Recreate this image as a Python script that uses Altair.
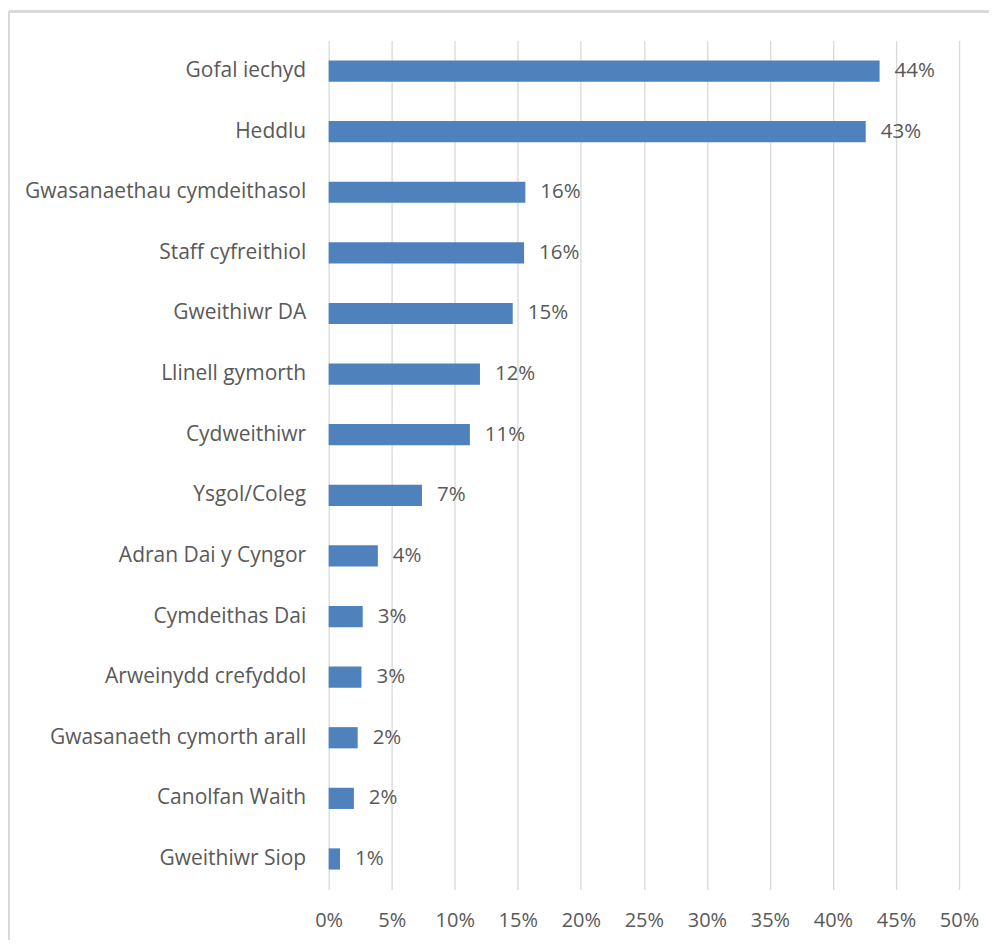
import altair as alt
import pandas as pd

categories = [
    "Gofal iechyd", "Heddlu", "Gwasanaethau cymdeithasol", "Staff cyfreithiol",
    "Gweithiwr DA", "Llinell gymorth", "Cydweithiwr", "Ysgol/Coleg",
    "Adran Dai y Cyngor", "Cymdeithas Dai", "Arweinydd crefyddol",
    "Gwasanaeth cymorth arall", "Canolfan Waith", "Gweithiwr Siop",
]
values = [0.437, 0.426, 0.156, 0.155, 0.146, 0.120, 0.112, 0.074,
          0.039, 0.027, 0.026, 0.023, 0.020, 0.009]
x_ticks = [0, 0.05, 0.10, 0.15, 0.20, 0.25, 0.30, 0.35, 0.40, 0.45, 0.50]

df = pd.DataFrame({"cat": categories, "val": values})

FONT = "Open Sans"
GRAY = "#595959"
FS = 19.5

y_enc = alt.Y("cat:N", sort=categories, title=None,
              scale=alt.Scale(paddingInner=0.65, paddingOuter=0.33),
              axis=alt.Axis(labelFontSize=21, labelColor=GRAY, labelFont=FONT,
                            labelPadding=23, ticks=False, domain=False,
                            labelLimit=400))
x_enc = alt.X("val:Q", title=None,
              scale=alt.Scale(domain=[0, 0.5], nice=False),
              axis=alt.Axis(values=x_ticks, format=".0%", labelFontSize=20,
                            labelColor=GRAY, labelFont=FONT, labelPadding=21,
                            labelFlush=False, labelOverlap=False,
                            ticks=False, domain=False, grid=True,
                            gridColor="#D9D9D9", gridWidth=1.3))

bars = alt.Chart(df).mark_bar(color="#4F81BD").encode(x=x_enc, y=y_enc)
labels = alt.Chart(df).mark_text(align="left", baseline="middle", dx=15,
                                 fontSize=20.5, font=FONT, color=GRAY).encode(
    x="val:Q", y=alt.Y("cat:N", sort=categories),
    text=alt.Text("val:Q", format=".0%"))

frame_left = alt.Chart(df).mark_rule(color="#D9D9D9", strokeWidth=2).encode(
    x=alt.value(-320), y=alt.value(-29), y2=alt.value(900))
frame_top = alt.Chart(df).mark_rule(color="#D9D9D9", strokeWidth=2).encode(
    x=alt.value(-320), x2=alt.value(700), y=alt.value(-29))

chart = alt.layer(frame_left, frame_top, bars, labels).properties(
    width=631, height=850,
    autosize=alt.AutoSizeParams(type="none"),
    padding={"left": 321, "top": 32, "right": 30, "bottom": 50},
).configure_view(stroke=None)

chart.save("out.html", embed_options={"renderer": "svg", "actions": False})
